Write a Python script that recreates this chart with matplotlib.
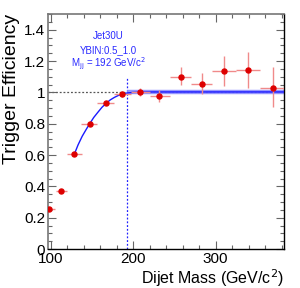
import matplotlib
matplotlib.use("Agg")
import matplotlib.pyplot as plt
from matplotlib.ticker import MultipleLocator, FuncFormatter
import numpy as np

plt.rcParams['font.family'] = ['Liberation Sans', 'DejaVu Sans']

# data
mass = [97.7, 111.8, 128.4, 147.1, 166.9, 186.7, 208.5, 231.8, 257.5, 283.0, 310.4, 339.2, 369.9]
eff = [0.255, 0.371, 0.605, 0.80, 0.93, 0.99, 1.0, 0.98, 1.10, 1.055, 1.134, 1.14, 1.03]
eff_lo = [0.010, 0.010, 0.012, 0.012, 0.010, 0.020, 0.025, 0.040, 0.055, 0.065, 0.094, 0.115, 0.120]
eff_hi = [0.010, 0.010, 0.012, 0.012, 0.010, 0.020, 0.025, 0.035, 0.060, 0.070, 0.096, 0.120, 0.130]
bin_lo = [89.0, 105.8, 119.5, 137.0, 156.3, 176.6, 197.0, 220.5, 244.5, 270.0, 296.0, 324.5, 354.0]
bin_hi = [105.5, 119.2, 137.7, 156.3, 176.6, 197.0, 220.5, 244.5, 270.0, 296.0, 324.5, 354.0, 383.0]

# fit curve
fit_x = [128.4, 133, 138, 143, 147.1, 152, 157, 162, 166.9, 172, 177, 182, 186.7, 192, 200, 210, 225, 250, 300, 383]
fit_y = [0.605, 0.665, 0.72, 0.765, 0.80, 0.84, 0.873, 0.905, 0.93, 0.952, 0.968, 0.981, 0.99, 0.996, 1.0, 1.002, 1.003, 1.003, 1.003, 1.003]
plateau = 1.003
m_jj = 192

fig = plt.figure(figsize=(3.0, 2.88), dpi=100)
ax = fig.add_axes([0.16, 0.1354, 0.787, 0.8156])

xmin, xmax = 96.5, 383
ax.set_xlim(xmin, xmax)
ax.set_ylim(0, 1.5)

# reference lines
ax.plot([xmin, xmax], [1, 1], color='#555555', ls=(0, (1.5, 1.5)), lw=0.9, zorder=1)
ax.plot([m_jj, m_jj], [0, 1.1], color='#2020ff', ls=(0, (1.5, 1.5)), lw=0.9, zorder=1)

# plateau band and fit
ax.plot([m_jj, xmax], [plateau, plateau], color='#8c8cff', lw=3.2, alpha=0.9, zorder=2, solid_capstyle='butt')
ax.plot(fit_x, fit_y, color='#1a1aff', lw=1.0, zorder=3)

m = np.array(mass)
xerr = [m - np.array(bin_lo), np.array(bin_hi) - m]
ax.errorbar(mass, eff, yerr=[eff_lo, eff_hi], xerr=xerr, fmt='none',
            ecolor='#f08a8a', elinewidth=1.0, capsize=0, zorder=4)
ax.plot(mass, eff, 'o', color='#dd0000', ms=3.6, mec='#dd0000', zorder=5)

# ticks
ax.xaxis.set_major_locator(MultipleLocator(100))
ax.xaxis.set_minor_locator(MultipleLocator(20))
ax.yaxis.set_major_locator(MultipleLocator(0.2))
ax.yaxis.set_minor_locator(MultipleLocator(0.05))
ax.yaxis.set_major_formatter(FuncFormatter(lambda v, p: ('%g' % round(v, 2))))
ax.tick_params(which='both', direction='in', top=True, right=True, color='#666666')
ax.tick_params(which='major', length=6, width=0.8, labelsize=11, pad=2)
ax.tick_params(which='minor', length=3, width=0.8)
for s in ['left', 'top']:
    ax.spines[s].set_color('#777777')
    ax.spines[s].set_linewidth(1.2)
for s in ['bottom', 'right']:
    ax.spines[s].set_color('black')
    ax.spines[s].set_linewidth(1.0)

ax.set_xlabel('Dijet Mass (GeV/c$^{2}$)', fontsize=11.5, loc='right', labelpad=1)
ax.set_ylabel('Trigger Efficiency', fontsize=14, loc='top', labelpad=3)

tc = '#2a2aff'
ax.text(169, 1.36, 'Jet30U', color=tc, fontsize=7, ha='center', va='center')
ax.text(170, 1.27, 'YBIN:0.5_1.0', color=tc, fontsize=7, ha='center', va='center')
ax.text(170, 1.185, 'M$_{\\mathrm{jj}}$ = 192 GeV/c$^{2}$', color=tc, fontsize=7, ha='center', va='center')

fig.savefig('out.png', dpi=100)
